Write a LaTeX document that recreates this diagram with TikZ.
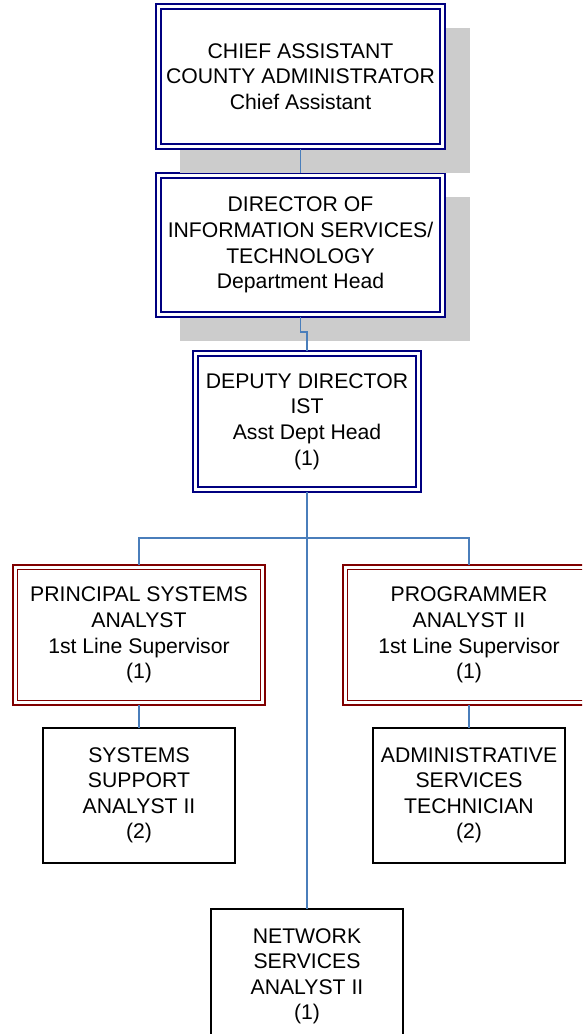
\documentclass[tikz,border=0pt]{standalone}
\usepackage{fontspec}
\setmainfont{Liberation Sans}
\definecolor{navyline}{RGB}{0,0,128}
\definecolor{redline}{RGB}{128,0,0}
\definecolor{linkblue}{RGB}{74,126,187}
\definecolor{shadowgray}{RGB}{204,204,204}
\tikzset{
  box/.style={rectangle, fill=white, inner sep=0pt, outer sep=0pt, align=center,
    font=\fontsize{21.2}{25.6}\selectfont},
  headbox/.style={box, draw=navyline, line width=2pt},
  leadbox/.style={box, draw=redline, line width=2pt,
    minimum width=252pt, minimum height=140pt},
  staffbox/.style={box, draw=black, line width=1.8pt,
    minimum width=192.3pt, minimum height=134.6pt},
  link/.style={draw=linkblue, line width=1.9pt},
  shadowbox/.style={fill=shadowgray},
}
% second, thinner frame drawn inside a box
\newcommand{\innerframe}[3]{%
  \draw[#2, line width=1.3pt] ([xshift=#3,yshift=-#3]#1.north west)
    rectangle ([xshift=-#3,yshift=#3]#1.south east);}

\begin{document}
\begin{tikzpicture}[x=1pt,y=-1pt]
\useasboundingbox (0,0) rectangle (582,1034);
\clip (0,0) rectangle (582,1034);

% director of IST, with its shadow
\fill[shadowbox] (180,197) rectangle (470,341);
\node[headbox, minimum width=289pt, minimum height=144pt] (director) at (300.5,245)
  {DIRECTOR OF\\INFORMATION SERVICES/\\TECHNOLOGY\\Department Head};
\innerframe{director}{navyline}{5pt}

% chief assistant, with its shadow
\fill[shadowbox] (180,28) rectangle (470,173);
\node[headbox, minimum width=289pt, minimum height=145pt] (chief) at (300.5,76.5)
  {CHIEF ASSISTANT\\COUNTY ADMINISTRATOR\\Chief Assistant};
\innerframe{chief}{navyline}{5pt}

% deputy director
\node[headbox, minimum width=228pt, minimum height=141pt] (deputy) at (307,421.5)
  {DEPUTY DIRECTOR\\IST\\Asst Dept Head\\(1)};
\innerframe{deputy}{navyline}{5pt}

% first line supervisors
\node[leadbox] (principal) at (139,635)
  {PRINCIPAL SYSTEMS\\ANALYST\\1st Line Supervisor\\(1)};
\innerframe{principal}{redline}{4.4pt}
\node[leadbox] (programmer) at (469,635)
  {PROGRAMMER\\ANALYST II\\1st Line Supervisor\\(1)};
\innerframe{programmer}{redline}{4.4pt}

% staff positions
\node[staffbox] (systems) at (139,795.3)
  {SYSTEMS\\SUPPORT\\ANALYST II\\(2)};
\node[staffbox] (admin) at (469,795.3)
  {ADMINISTRATIVE\\SERVICES\\TECHNICIAN\\(2)};
\node[staffbox] (network) at (307,976.3)
  {NETWORK\\SERVICES\\ANALYST II\\(1)};

% reporting lines
\coordinate (bus) at (307,538);
\draw[link] (chief.south) -- (director.north);
\draw[link] (director.south) -- ([yshift=-15pt]director.south) -| (deputy.north);
\draw[link] (deputy.south) -- (network.north);
\draw[link] (principal.north) |- (bus) -| (programmer.north);
\draw[link] (principal.south) -- (systems.north);
\draw[link] (programmer.south) -- (admin.north);
\end{tikzpicture}
\end{document}
